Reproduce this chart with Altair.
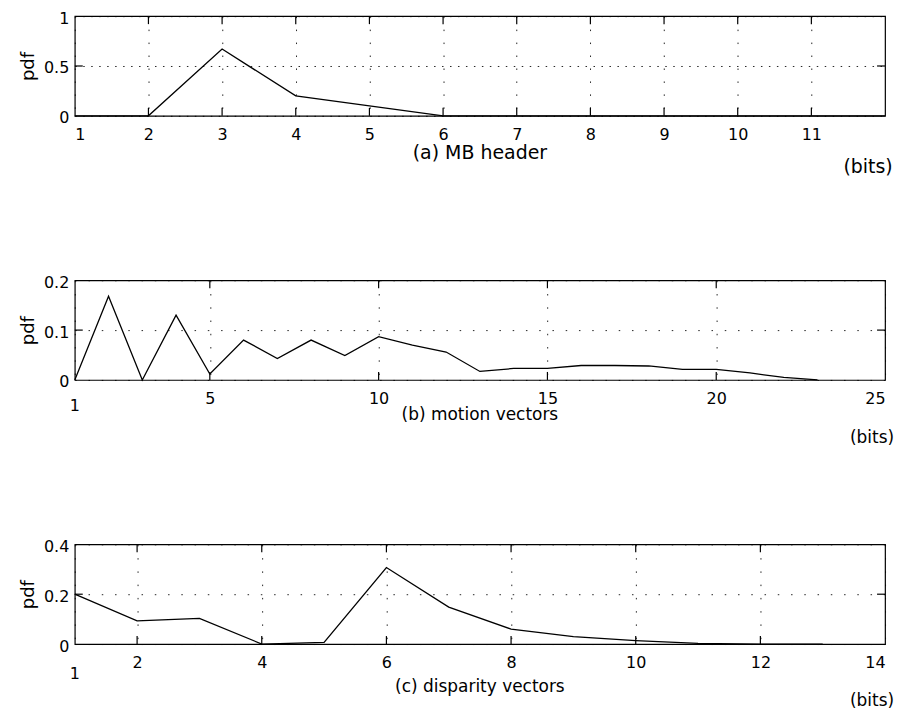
import altair as alt
import pandas as pd

# ---- data ----
a_x = [1, 2, 3, 4, 5, 6, 7, 8, 9, 10, 11, 12]
a_y = [0, 0, 0.67, 0.2, 0.1, 0, 0, 0, 0, 0, 0, 0]

b_x = [1, 2, 3, 4, 5, 6, 7, 8, 9, 10, 11, 12, 13, 14, 15, 16, 17, 18, 19, 20, 21, 22, 23]
b_y = [0, 0.168, 0, 0.13, 0.012, 0.08, 0.043, 0.08, 0.049, 0.087, 0.07, 0.056,
       0.017, 0.023, 0.023, 0.029, 0.029, 0.028, 0.021, 0.021, 0.014, 0.005, 0]

c_x = [1, 2, 3, 4, 5, 6, 7, 8, 9, 10, 11, 12, 13]
c_y = [0.2, 0.093, 0.103, 0, 0.007, 0.307, 0.148, 0.06, 0.03, 0.014, 0.003, 0, 0]

a_xticks = [1, 2, 3, 4, 5, 6, 7, 8, 9, 10, 11]
b_xticks = [1, 5, 10, 15, 20, 25]
c_xticks = [1, 2, 4, 6, 8, 10, 12, 14]

a_yticks = [0, 0.5, 1]
b_yticks = [0, 0.1, 0.2]
c_yticks = [0, 0.2, 0.4]

titles = ["(a) MB header", "(b) motion vectors", "(c) disparity vectors"]
unit_label = "(bits)"

W = 813
H = 100
FONT = "DejaVu Sans"


def panel(xs, ys, xdom, xticks, ydom, yticks, title, xdash, ydash, low_one,
          title_off, title_size, bits_dx, bits_off, bits_size, one_off):
    df = pd.DataFrame({"x": xs, "y": ys})
    xscale = alt.Scale(domain=xdom, nice=False, zero=False)
    yscale = alt.Scale(domain=ydom, nice=False, zero=False)
    label_expr = "datum.value == 1 ? '' : datum.label" if low_one else "datum.label"
    xaxis = alt.Axis(values=xticks, title=None, grid=True, gridDash=xdash,
                     gridColor="black", gridOpacity=0.85, gridWidth=1,
                     labelExpr=label_expr, labelPadding=11, format="~g",
                     labelFont=FONT, labelFontSize=16, labelColor="black")
    yaxis = alt.Axis(values=yticks, title="pdf", grid=True, gridDash=ydash,
                     gridColor="black", gridOpacity=0.85, gridWidth=1,
                     labelPadding=6, labelOffset=2, format="~g", titlePadding=6,
                     labelFont=FONT, labelFontSize=16, labelColor="black",
                     titleFont=FONT, titleFontSize=18, titleColor="black",
                     titleFontWeight="normal")

    line = alt.Chart(df).mark_line(color="black", strokeWidth=1.3).encode(
        x=alt.X("x:Q", scale=xscale, axis=xaxis),
        y=alt.Y("y:Q", scale=yscale, axis=yaxis),
    )

    inner_x = [v for v in xticks if xdom[0] < v < xdom[1]]
    tdf = pd.DataFrame({"t": inner_x})
    top_ticks = alt.Chart(tdf).mark_rule(color="black", strokeWidth=1.2).encode(
        x=alt.X("t:Q", scale=xscale), y=alt.value(0), y2=alt.value(8))
    bot_ticks = alt.Chart(tdf).mark_rule(color="black", strokeWidth=1.2).encode(
        x=alt.X("t:Q", scale=xscale), y=alt.value(H - 8), y2=alt.value(H))

    inner_y = [v for v in yticks if ydom[0] < v < ydom[1]]
    ydf = pd.DataFrame({"t": inner_y})
    left_ticks = alt.Chart(ydf).mark_rule(color="black", strokeWidth=1.2).encode(
        y=alt.Y("t:Q", scale=yscale), x=alt.value(0), x2=alt.value(8))
    right_ticks = alt.Chart(ydf).mark_rule(color="black", strokeWidth=1.2).encode(
        y=alt.Y("t:Q", scale=yscale), x=alt.value(W - 8), x2=alt.value(W))

    tt = alt.Chart(pd.DataFrame({"s": [title]})).mark_text(
        font=FONT, fontSize=title_size, color="black", align="center", baseline="middle"
    ).encode(text="s:N", x=alt.value(W / 2), y=alt.value(H + title_off))

    bits = alt.Chart(pd.DataFrame({"s": [unit_label]})).mark_text(
        font=FONT, fontSize=bits_size, color="black", align="center", baseline="middle"
    ).encode(text="s:N", x=alt.value(W - bits_dx), y=alt.value(H + bits_off))

    layers = [line, top_ticks, bot_ticks, left_ticks, right_ticks, tt, bits]
    if low_one:
        one = alt.Chart(pd.DataFrame({"v": [xdom[0]], "s": ["1"]})).mark_text(
            font=FONT, fontSize=16, color="black", align="center", baseline="middle"
        ).encode(x=alt.X("v:Q", scale=xscale), text="s:N",
                 y=alt.value(H + one_off))
        layers.append(one)
    return alt.layer(*layers).properties(width=W, height=H)


pa = panel(a_x, a_y, [1, 12], a_xticks, [0, 1], a_yticks, titles[0],
           [1.5, 11.5], [1.5, 6.5], False, 37, 19, 17, 51, 19, 0)
pb = panel(b_x, b_y, [1, 25], b_xticks, [0, 0.2], b_yticks, titles[1],
           [1.5, 11.8], [1.5, 11.8], True, 35, 17, 13, 58, 17, 26)
pc = panel(c_x, c_y, [1, 14], c_xticks, [0, 0.4], c_yticks, titles[2],
           [1.5, 11.8], [1.5, 11.8], True, 43, 17, 13, 57, 17, 30)

chart = alt.vconcat(pa, pb, pc, spacing=165, bounds="flush").properties(
    padding={"left": 10, "top": 0, "right": 0, "bottom": 0},
    background="white",
).configure_view(
    stroke="black", strokeWidth=1.2
).configure_axis(
    domain=False, ticks=False
)

chart.save("out.html", embed_options={"renderer": "svg", "actions": False})
